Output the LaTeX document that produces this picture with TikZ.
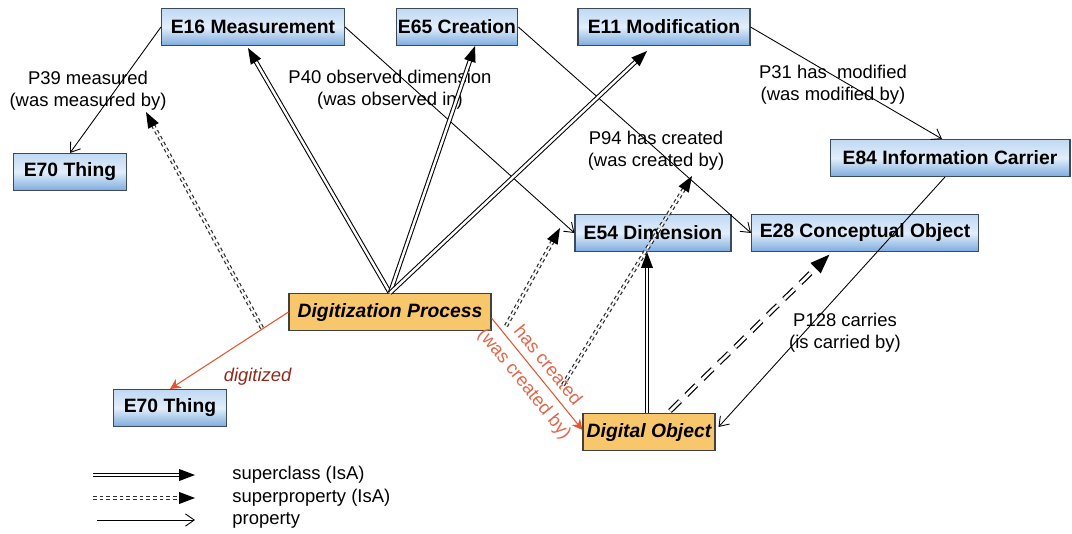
\documentclass[tikz,border=0pt]{standalone}
\usepackage{fontspec}
\setmainfont{Liberation Sans}
\usepackage{xcolor}
\usetikzlibrary{arrows.meta,positioning,calc,decorations.markings}

\definecolor{boxtop}{HTML}{BFD9F4}
\definecolor{boxmid}{HTML}{E2EEFA}
\definecolor{boxbot}{HTML}{7DABDF}
\definecolor{boxline}{HTML}{3C4A5C}
\definecolor{actfill}{HTML}{F8C66B}
\definecolor{linkorange}{HTML}{E2552F}
\definecolor{linktext}{HTML}{E0674A}
\definecolor{darkred}{HTML}{8C2A1C}
\definecolor{dotgray}{HTML}{2E2E2E}

\begin{document}
\begin{tikzpicture}[
    x=0.02cm, y=-0.02cm,
    cls/.style={rectangle, draw=boxline, line width=0.6pt, top color=boxtop, bottom color=boxbot, middle color=boxmid, minimum height=0.74cm, inner sep=1pt, font=\fontsize{11}{13}\selectfont\bfseries},
    act/.style={rectangle, draw=black!75, line width=0.6pt, fill=actfill, minimum height=0.74cm, inner sep=1pt, font=\fontsize{11}{13}\selectfont\bfseries\itshape},
    lbl/.style={align=center, inner sep=0pt, font=\fontsize{10.5}{12.5}\selectfont},
    headtip/.style={shorten >=#1-1pt, postaction={decorate, decoration={markings, mark=at position 1 with {\fill[black] (0pt,0pt) -- (-#1,0.38*#1) -- (-#1,-0.38*#1) -- cycle;}}}},
    prop/.style={-{Straight Barb[length=5pt,width=7pt]}, line width=0.5pt},
    isa/.style={double, line width=0.6pt, double distance=1.4pt, headtip=9pt},
    subisa/.style={draw=dotgray, double, line width=0.7pt, double distance=1pt, dash pattern=on 2pt off 1.8pt, headtip=9pt},
    subcls/.style={double, line width=0.7pt, double distance=1.6pt, dash pattern=on 8pt off 5pt, headtip=11pt},
    link/.style={draw=linkorange, line width=0.6pt, -{Stealth[length=6pt,width=6pt]}}
]
\useasboundingbox (0,0) rectangle (1072,534);

% CRM classes
\node[cls, minimum width=3.66cm] (meas) at (253,27) {E16 Measurement};
\node[cls, minimum width=2.30cm] (creat) at (457,27) {E65 Creation};
\node[cls, minimum width=3.44cm] (modif) at (664,27) {E11 Modification};
\node[cls, minimum width=2.26cm] (thingA) at (70,172) {E70 Thing};
\node[cls, minimum width=4.80cm] (carrier) at (950,158) {E84 Information Carrier};
\node[cls, minimum width=3.12cm] (dim) at (653,233) {E54 Dimension};
\node[cls, minimum width=4.54cm] (concept) at (865,233) {E28 Conceptual Object};
\node[cls, minimum width=2.26cm] (thingB) at (170,408) {E70 Thing};

% Digitization extension
\node[act, minimum width=4.04cm] (proc) at (390,312) {Digitization Process};
\node[act, minimum width=2.64cm] (digobj) at (649,432) {Digital Object};

% Properties
\draw[prop] (meas.west) -- (thingA.north);
\draw[prop] (meas.east) -- (dim.west);
\draw[prop] (creat.east) -- (concept.west);
\draw[prop] (modif.east) -- ($(carrier.north)+(-8,0)$);
\draw[prop] ($(carrier.south)+(-5,0)$) -- ($(digobj.east)+(3,-5)$);

% Labels
\node[lbl] (lmeas) at (88,91) {P39 measured\\(was measured by)};
\node[lbl] (lobs) at (390,90) {P40 observed dimension\\(was observed in)};
\node[lbl] (lcreat) at (656,151) {P94 has created\\(was created by)};
\node[lbl] (lmodif) at (833,85) {P31 has\ \ modified\\(was modified by)};
\node[lbl] (lcarry) at (845,333) {P128 carries\\(is carried by)};

% Superclass links
\draw[isa] (proc.north) -- ($(meas.south)+(-5,2)$);
\draw[isa] (proc.north) -- ($(creat.south)+(18,0)$);
\draw[isa] (proc.north) -- ($(modif.south)+(-17,5)$);
\draw[isa] (digobj.north -| 647,0) -- (dim.south -| 647,0);
\draw[subcls] ($(digobj.north)+(21,-2)$) -- ($(concept.south)+(-35,2)$);

% New properties
\draw[link] (proc.west) -- (thingB.north) node[pos=0.6, below right=2pt and 0pt, text=darkred, font=\fontsize{10.5}{12}\selectfont\itshape] (ldig) {digitized};
\draw[link] ($(proc.east)+(0,6)$) -- ($(digobj.west)+(0,-2)$)
    node[midway, sloped, above=1pt, text=linktext, font=\fontsize{10.5}{12}\selectfont] (lhas) {has created}
    node[midway, sloped, below=1pt, text=linktext, font=\fontsize{10.5}{12}\selectfont] (lwas) {(was created by)};

% Superproperty links
\coordinate (spA1) at (262,328);
\coordinate (spA2) at (146,112);
\coordinate (spB1) at (506,326);
\coordinate (spB2) at (560,228);
\coordinate (spC1) at (563,385);
\coordinate (spC2) at (692,176);
\draw[subisa] (spA1) -- (spA2);
\draw[subisa] (spB1) -- (spB2);
\draw[subisa] (spC1) -- (spC2);

% Legend
\coordinate (lg1) at (93,475);
\coordinate (lg2) at (93,498);
\coordinate (lg3) at (97,520);
\node[lbl, anchor=west] (tx1) at (232,475) {superclass (IsA)};
\node[lbl, anchor=west] (tx2) at (232,498) {superproperty (IsA)};
\node[lbl, anchor=west] (tx3) at (232,520) {property};
\draw[isa] (lg1) -- ++(102,0);
\draw[subisa] (lg2) -- ++(102,0);
\draw[prop] (lg3) -- ++(98,0);

\end{tikzpicture}
\end{document}
